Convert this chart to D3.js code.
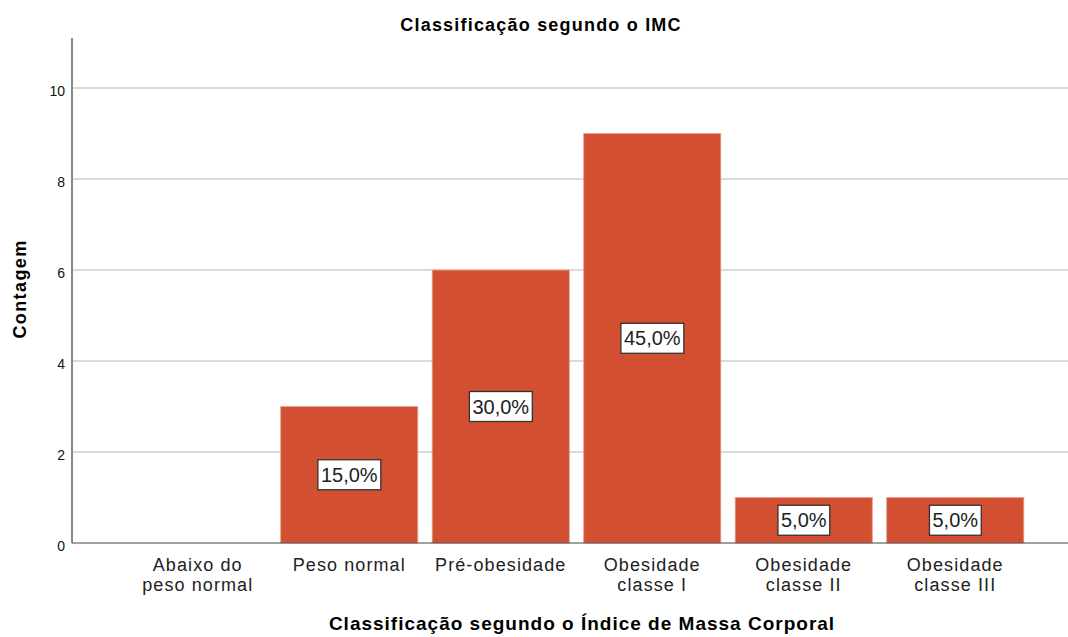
<!DOCTYPE html>
<html><head><meta charset="utf-8">
<script src="https://cdn.jsdelivr.net/npm/d3@7"></script>
<style>body{margin:0;background:#fff}svg{display:block;font-family:"Liberation Sans",Arial,sans-serif}</style>
</head><body>
<svg id="c" width="1068" height="637"></svg>
<script>
const categories = [["Abaixo do","peso normal"],["Peso normal"],["Pré-obesidade"],["Obesidade","classe I"],["Obesidade","classe II"],["Obesidade","classe III"]];
const counts = [0, 3, 6, 9, 1, 1];
const percentLabels = ["", "15,0%", "30,0%", "45,0%", "5,0%", "5,0%"];
const yTicks = [0, 2, 4, 6, 8, 10];

(function(){
const svg = d3.select("#c");
const pL = 72, pR = 1068, pT = 38, pB = 543;
const keys = categories.map((d,i)=>i);
const x = d3.scaleBand().domain(keys).range([122, 1031]).paddingInner(0.095).paddingOuter(0.0475);
const y = d3.scaleLinear().domain([0, 11.1]).range([pB, pT]);

svg.append("g").selectAll("line").data(yTicks.filter(t=>t>0)).join("line")
  .attr("x1", pL).attr("x2", pR).attr("y1", d=>y(d)).attr("y2", d=>y(d))
  .attr("stroke", "#cfcfcf").attr("stroke-width", 1.5);

svg.append("g").selectAll("rect").data(counts).join("rect")
  .attr("x", (d,i)=>x(i)).attr("width", x.bandwidth())
  .attr("y", d=>y(d)).attr("height", d=>pB - y(d))
  .attr("fill", "#d25031").attr("stroke", "#e8a08c").attr("stroke-width", 0.8)
  .attr("display", d=>d>0?null:"none");

const yAxis = d3.axisLeft(y).tickValues(yTicks).tickSize(0).tickPadding(7);
const ga = svg.append("g").attr("transform", `translate(${pL},0)`).call(yAxis);
ga.select(".domain").remove();
ga.selectAll("text").attr("font-size", 14).attr("fill", "#111").attr("dy", "0.5em")
  .attr("font-family", "Liberation Sans, Arial, sans-serif");
svg.append("line").attr("x1", pL).attr("x2", pL).attr("y1", pT).attr("y2", pB)
  .attr("stroke", "#888").attr("stroke-width", 2);
svg.append("line").attr("x1", pL).attr("x2", pR).attr("y1", pB).attr("y2", pB)
  .attr("stroke", "#444").attr("stroke-width", 1.2);

const xl = svg.append("g");
categories.forEach((lines,i)=>{
  const cx = x(i)+x.bandwidth()/2;
  const t = xl.append("text").attr("x", cx).attr("y", 571)
    .attr("text-anchor","middle").attr("font-size", 18).attr("letter-spacing", 1.1).attr("fill","#222");
  lines.forEach((ln,j)=>t.append("tspan").attr("x", cx).attr("dy", j===0?0:20).text(ln));
});

const lg = svg.append("g");
counts.forEach((c,i)=>{
  if(!percentLabels[i]) return;
  const cx = x(i)+x.bandwidth()/2, cy = y(c/2);
  const t = lg.append("text").attr("x", cx).attr("y", cy).attr("dy","0.36em")
    .attr("text-anchor","middle").attr("font-size", 20).attr("fill","#222").text(percentLabels[i]);
  const bb = t.node().getBBox();
  lg.insert("rect", () => t.node()).attr("x", bb.x-3).attr("y", cy-15).attr("width", bb.width+6).attr("height", 30)
    .attr("fill","#fff").attr("stroke","#333").attr("stroke-width",1.3);
});

svg.append("text").attr("x", 541).attr("y", 31).attr("text-anchor","middle")
  .attr("font-size", 18).attr("letter-spacing", 1.2).attr("font-weight","bold").text("Classificação segundo o IMC");
svg.append("text").attr("x", 582).attr("y", 630).attr("text-anchor","middle")
  .attr("font-size", 19).attr("letter-spacing", 1.0).attr("font-weight","bold").text("Classificação segundo o Índice de Massa Corporal");
svg.append("text").attr("transform","translate(26,289) rotate(-90)").attr("text-anchor","middle")
  .attr("font-size", 18).attr("letter-spacing", 1.4).attr("font-weight","bold").text("Contagem");
})();
</script>
</body></html>
